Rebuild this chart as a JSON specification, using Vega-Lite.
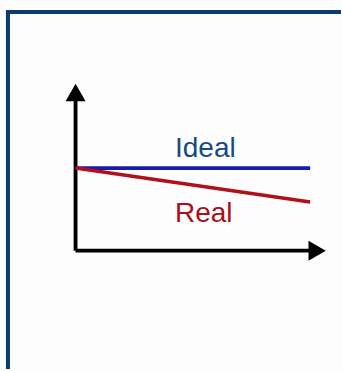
{
  "$schema": "https://vega.github.io/schema/vega-lite/v6.json",
  "width": 343,
  "height": 371,
  "autosize": {"type": "fit", "contains": "padding"},
  "padding": 0,
  "background": "#fdfdfd",
  "config": {"view": {"stroke": null}},
  "datasets": {
    "segments": [
      {"part": "frame", "x": -70, "y": 240, "x2": 267, "y2": 240},
      {"part": "frame", "x": -68, "y": 242, "x2": -68, "y2": -119},
      {"part": "axis", "x": 0, "y": 0, "x2": 236, "y2": 0},
      {"part": "axis", "x": 0, "y": 0, "x2": 0, "y2": 152},
      {"part": "Ideal", "x": 0, "y": 83, "x2": 236, "y2": 83},
      {"part": "Real", "x": 0, "y": 83, "x2": 236, "y2": 49}
    ],
    "arrows": [
      {"dir": "up", "x": 0, "y": 159},
      {"dir": "right", "x": 243, "y": 0}
    ],
    "labels": [
      {"text": "Ideal", "x": 100, "y": 94},
      {"text": "Real", "x": 100, "y": 29}
    ]
  },
  "resolve": {"scale": {"color": "independent", "size": "independent", "shape": "independent"}},
  "layer": [
    {
      "data": {"name": "segments"},
      "mark": {"type": "rule", "strokeCap": "butt"},
      "encoding": {
        "x": {"field": "x", "type": "quantitative", "scale": {"domain": [-76, 267], "nice": false, "zero": false}, "axis": null},
        "y": {"field": "y", "type": "quantitative", "scale": {"domain": [-119, 252], "nice": false, "zero": false}, "axis": null},
        "x2": {"field": "x2"},
        "y2": {"field": "y2"},
        "color": {"field": "part", "type": "nominal", "scale": {"domain": ["frame", "axis", "Ideal", "Real"], "range": ["#0a3c70", "#000000", "#1a1aa8", "#b0101c"]}, "legend": null},
        "size": {"field": "part", "type": "nominal", "scale": {"domain": ["frame", "axis", "Ideal", "Real"], "range": [4, 3.5, 3, 3]}, "legend": null}
      }
    },
    {
      "data": {"name": "arrows"},
      "mark": {"type": "point", "filled": true, "opacity": 1, "color": "#000000"},
      "encoding": {
        "x": {"field": "x", "type": "quantitative"},
        "y": {"field": "y", "type": "quantitative"},
        "shape": {"field": "dir", "type": "nominal", "scale": {"domain": ["up", "right"], "range": ["triangle-up", "triangle-right"]}, "legend": null},
        "size": {"value": 400}
      }
    },
    {
      "data": {"name": "labels"},
      "mark": {"type": "text", "align": "left", "baseline": "alphabetic", "font": "Liberation Sans", "fontSize": 28},
      "encoding": {
        "x": {"field": "x", "type": "quantitative"},
        "y": {"field": "y", "type": "quantitative"},
        "text": {"field": "text"},
        "color": {"field": "text", "type": "nominal", "scale": {"domain": ["Ideal", "Real"], "range": ["#164a82", "#a8101a"]}, "legend": null}
      }
    }
  ]
}
